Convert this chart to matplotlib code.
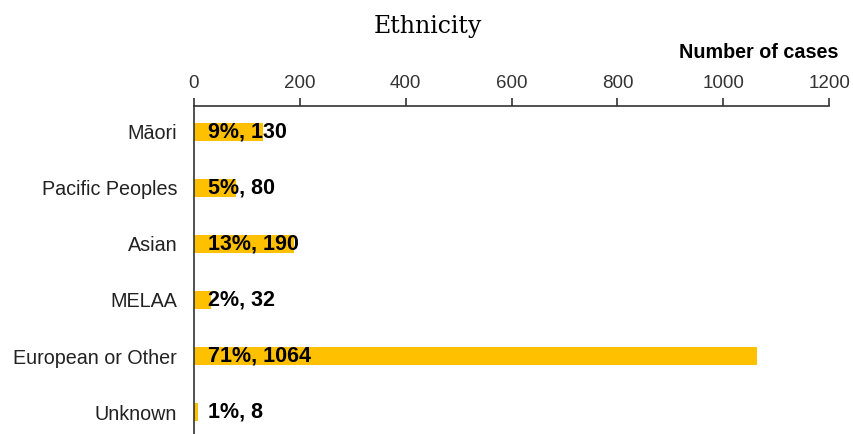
import matplotlib
matplotlib.use("Agg")
import matplotlib.pyplot as plt

plt.rcParams['font.family'] = ['Liberation Sans', 'DejaVu Sans']

categories = ["Māori", "Pacific Peoples", "Asian", "MELAA", "European or Other", "Unknown"]
cases = [130, 80, 190, 32, 1064, 8]
percents = ["9%", "5%", "13%", "2%", "71%", "1%"]
xticks = [0, 200, 400, 600, 800, 1000, 1200]

fig = plt.figure(figsize=(8.54, 4.34), dpi=100)
ax = fig.add_axes([0.227, 0.0, 0.744, 0.756])

ypos = list(range(len(categories)))
ax.barh(ypos, cases, height=0.32, color="#FFC000")

for y, v, p in zip(ypos, cases, percents):
    ax.annotate(f"{p}, {v}", xy=(0, y), xytext=(10, 0), textcoords="offset points",
                va="center", ha="left", fontsize=15.5, fontweight="bold", color="black")

ax.set_xlim(0, 1200)
ax.set_ylim(5.39, -0.46)
ax.set_yticks(ypos)
ax.set_yticklabels(categories, fontsize=14.2, color="#222222")
ax.set_xticks(xticks)
ax.xaxis.tick_top()
ax.tick_params(axis="x", direction="out", length=6, width=1.2, labelsize=13.5, colors="#333333", pad=4)
ax.tick_params(axis="y", length=0, pad=12)
for s in ["right", "bottom"]:
    ax.spines[s].set_visible(False)
ax.spines["top"].set_linewidth(1.2)
ax.spines["left"].set_linewidth(1.2)
ax.spines["top"].set_color("#333333")
ax.spines["left"].set_color("#333333")

fig.text(0.501, 0.94, "Ethnicity", ha="center", va="center", fontsize=17,
         family="DejaVu Serif")
fig.text(0.982, 0.88, "Number of cases", ha="right", va="center", fontsize=14.2,
         fontweight="bold")

fig.savefig("out.png", dpi=100)
